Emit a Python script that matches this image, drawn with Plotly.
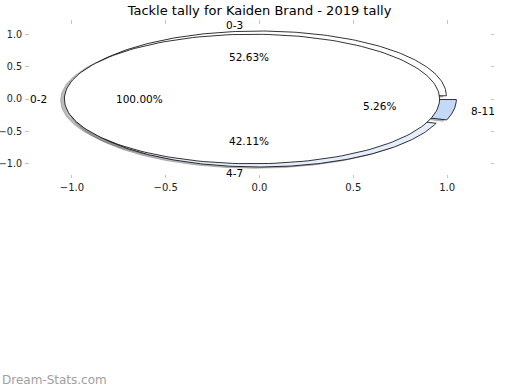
import numpy as np
import plotly.graph_objects as go

title = "Tackle tally for Kaiden Brand - 2019 tally"
outer_labels = ["0-3", "4-7", "8-11"]
outer_values = [10, 8, 1]
outer_colors = ["#ffffff", "#e6eefc", "#c4d8f8"]
inner_labels = ["0-2"]
inner_values = [1]
inner_colors = ["#ffffff"]
tick_vals = [-1.0, -0.5, 0.0, 0.5, 1.0]

FONT = "DejaVu Sans"
fig = go.Figure()
annotations = []


def wedge_poly(t1, t2, cx, cy, r=1.0):
    th = np.radians(np.linspace(t1, t2, 200))
    xs = cx + r * np.cos(th)
    ys = cy + r * np.sin(th)
    if abs((t2 - t1) - 360) < 1e-9:
        return list(xs), list(ys)
    return [cx] + list(xs) + [cx], [cy] + list(ys) + [cy]


def pie(values, labels, colors, explode):
    total = float(sum(values))
    shapes = []
    t = 0.0
    for v, lab, col in zip(values, labels, colors):
        t2 = t + 360.0 * v / total
        mid = np.radians((t + t2) / 2)
        cx, cy = explode * np.cos(mid), explode * np.sin(mid)
        xs, ys = wedge_poly(t, t2, cx, cy)
        shapes.append((xs, ys, col))
        lx = cx + 1.1 * np.cos(mid)
        ly = cy + 1.1 * np.sin(mid)
        annotations.append(dict(x=lx, y=ly, xref="x", yref="y", text=lab, showarrow=False,
                                xanchor="left" if lx > 0 else "right", yanchor="middle",
                                xshift=-3 if lx > 0 else 3,
                                font=dict(family=FONT, size=10.5, color="#000")))
        px = cx + 0.6 * np.cos(mid)
        py = cy + 0.6 * np.sin(mid)
        annotations.append(dict(x=px, y=py, xref="x", yref="y", text=f"{100 * v / total:.2f}%",
                                showarrow=False, xanchor="center", yanchor="middle",
                                font=dict(family=FONT, size=10.5, color="#000")))
        t = t2
    return shapes


outer = pie(outer_values, outer_labels, outer_colors, 0.05)
inner = pie(inner_values, inner_labels, inner_colors, 0.04)

for xs, ys, col in outer + inner:
    fig.add_trace(go.Scatter(x=[x - 0.02 for x in xs], y=[y - 0.02 for y in ys], mode="lines",
                             fill="toself", fillcolor="rgba(90,90,90,0.4)",
                             line=dict(color="rgba(90,90,90,0.35)", width=1),
                             hoverinfo="skip", showlegend=False))
for xs, ys, col in outer + inner:
    fig.add_trace(go.Scatter(x=xs, y=ys, mode="lines", fill="toself", fillcolor=col,
                             line=dict(color="#000", width=0.8),
                             hoverinfo="skip", showlegend=False))

annotations.append(dict(x=0.0, y=(390 - 380) / 390, xref="paper", yref="paper", text="Dream-Stats.com",
                        showarrow=False, xanchor="left", yanchor="middle",
                        font=dict(family=FONT, size=12, color="#a0a0a0")))

axis_common = dict(tickvals=tick_vals, tickformat=".1f", ticks="inside", ticklen=3.5,
                   tickwidth=1, tickcolor="#c4c4c4", showgrid=False, zeroline=False,
                   showline=True, linecolor="rgba(0,0,0,0)", mirror="ticks", automargin=False,
                   fixedrange=True)

fig.update_layout(
    width=520, height=390,
    margin=dict(l=0, r=0, t=0, b=0, autoexpand=False),
    paper_bgcolor="white", plot_bgcolor="white",
    title=dict(text=title, x=259.5 / 520, y=1 - 10 / 390, xanchor="center", yanchor="middle",
               automargin=False, font=dict(family=FONT, size=13, color="#000")),
    xaxis=dict(range=[-1.25, 1.25], domain=[25 / 520, 494 / 520],
               tickfont=dict(family=FONT, size=10, color="#222"), **axis_common),
    yaxis=dict(range=[-1.22, 1.22], domain=[(390 - 178) / 390, (390 - 20) / 390],
               tickfont=dict(family=FONT, size=9.6, color="#222"), **axis_common),
    annotations=annotations,
    showlegend=False,
)

fig.write_html("out.html", config={"displayModeBar": False},
               post_script="document.body.style.margin='0';document.body.style.overflow='hidden';")
